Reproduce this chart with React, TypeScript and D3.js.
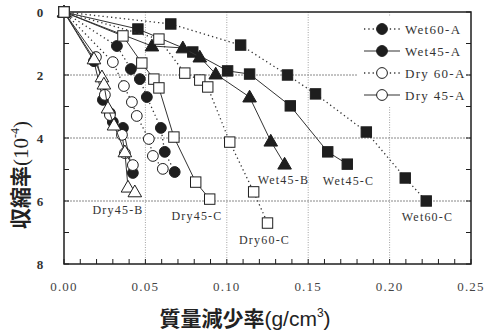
import * as d3 from 'd3';

// 質量減少率 (g/cm3) と 収縮率 (10^-4) のデータ, [x, y]
const wet60C = [[0, 0], [0.0656, 0.38], [0.1085, 1.05], [0.1373, 2.0], [0.1545, 2.6], [0.1857, 3.81], [0.2096, 5.27], [0.2225, 6.0]];
const wet45C = [[0, 0], [0.0454, 0.54], [0.0791, 1.27], [0.1005, 1.87], [0.114, 1.97], [0.139, 2.98], [0.162, 4.44], [0.174, 4.83]];
const wet45B = [[0, 0], [0.054, 1.08], [0.073, 1.14], [0.0834, 1.43], [0.0932, 1.97], [0.114, 2.7], [0.127, 4.1], [0.1355, 4.83]];
const wet60A = [[0, 0], [0.0325, 1.08], [0.0411, 1.81], [0.0466, 2.13], [0.0509, 2.7], [0.0595, 3.68], [0.0619, 4.44], [0.068, 5.08]];
const wet45A = [[0, 0], [0.0184, 1.56], [0.0239, 2.79], [0.0282, 3.21], [0.030, 3.49], [0.0362, 3.68], [0.0423, 5.11]];
const dry60A = [[0, 0], [0.030, 1.59], [0.0368, 2.35], [0.0417, 2.86], [0.0447, 3.3], [0.0521, 4.03], [0.0546, 4.57], [0.0607, 4.98]];
const dry45A = [[0, 0], [0.0196, 1.43], [0.0251, 2.63], [0.0282, 3.27], [0.0356, 3.9], [0.0374, 4.48], [0.0423, 4.86]];
const dry45B = [[0, 0], [0.0184, 1.49], [0.0233, 2.06], [0.0245, 2.29], [0.027, 3.05], [0.0307, 3.59], [0.0374, 4.44], [0.0393, 5.56], [0.0435, 5.71]];
const dry60C = [[0, 0], [0.0583, 0.86], [0.0742, 1.94], [0.0834, 2.16], [0.0883, 2.38], [0.1018, 4.13], [0.1165, 5.71], [0.125, 6.7]];
const dry45C = [[0, 0], [0.0362, 0.76], [0.0478, 1.62], [0.0552, 2.13], [0.0583, 2.41], [0.0675, 3.97], [0.0809, 5.4], [0.0895, 5.94]];

const xTicks = [0, 0.05, 0.1, 0.15, 0.2, 0.25];
const yTicks = [0, 2, 4, 6, 8];

// shape: c=circle, s=square, t=triangle
const series = [
  { data: wet60C, shape: 's', filled: true, dotted: true },
  { data: wet45C, shape: 's', filled: true, dotted: false },
  { data: wet45B, shape: 't', filled: true, dotted: false },
  { data: wet60A, shape: 'c', filled: true, dotted: true },
  { data: dry60A, shape: 'c', filled: false, dotted: true },
  { data: wet45A, shape: 'c', filled: true, dotted: false },
  { data: dry45A, shape: 'c', filled: false, dotted: false },
  { data: dry45B, shape: 't', filled: false, dotted: false },
  { data: dry60C, shape: 's', filled: false, dotted: true },
  { data: dry45C, shape: 's', filled: false, dotted: false },
];

// ラベル (グラフ内の注記)
const notes = [
  { text: 'Wet45-B', x: 0.119, y: 5.45 },
  { text: 'Wet45-C', x: 0.159, y: 5.5 },
  { text: 'Wet60-C', x: 0.2075, y: 6.65 },
  { text: 'Dry60-C', x: 0.1075, y: 7.35 },
  { text: 'Dry45-C', x: 0.066, y: 6.6 },
  { text: 'Dry45-B', x: 0.0175, y: 6.4 },
];

const legendItems = [
  { text: 'Wet60-A', filled: true, dotted: true },
  { text: 'Wet45-A', filled: true, dotted: false },
  { text: 'Dry 60-A', filled: false, dotted: true },
  { text: 'Dry 45-A', filled: false, dotted: false },
];

const INK = '#1e1e1e';
const serif = '"Liberation Serif", "DejaVu Serif", serif';

function Marker({ shape, filled, cx, cy }: { shape: string; filled: boolean; cx: number; cy: number }) {
  const fill = filled ? INK : '#fff';
  if (shape === 'c') return <circle cx={cx} cy={cy} r={5.4} fill={fill} stroke={INK} strokeWidth={1} />;
  if (shape === 's') return <rect x={cx - 5.2} y={cy - 5.2} width={10.4} height={10.4} fill={fill} stroke={INK} strokeWidth={1} />;
  const tri = d3.symbol(d3.symbolTriangle, 80)();
  return <path d={tri || ''} transform={`translate(${cx},${cy + 1})`} fill={fill} stroke={INK} strokeWidth={1} />;
}

export default function App() {
  const W = 488, H = 334;
  const left = 64, right = 471, top = 12, bottom = 264;
  const x = d3.scaleLinear().domain([0, 0.25]).range([left, right]);
  const y = d3.scaleLinear().domain([0, 8]).range([top, bottom]);
  const line = d3.line<number[]>().x(d => x(d[0])).y(d => y(d[1]));

  const minorX = d3.range(0, 0.2501, 0.01);
  const minorY = d3.range(0, 8.01, 1);

  return (
    <svg width={W} height={H} style={{ position: 'absolute', left: 0, top: 0, background: '#fff' }}>
      {/* グリッド */}
      {xTicks.slice(1, -1).map(t => (
        <line key={'gx' + t} x1={x(t)} x2={x(t)} y1={top} y2={bottom} stroke="#8a8a8a" strokeWidth={0.8} strokeDasharray="1 1.5" />
      ))}
      {yTicks.slice(1, -1).map(t => (
        <line key={'gy' + t} x1={left} x2={right} y1={y(t)} y2={y(t)} stroke="#7a7a7a" strokeWidth={0.9} strokeDasharray="2 1" />
      ))}

      {/* 凡例の背景 */}
      <rect x={358} y={16} width={108} height={91} fill="#fff" />

      {/* 目盛り */}
      {minorX.map((t, i) => (
        <line key={'mx' + i} x1={x(t)} x2={x(t)} y1={bottom} y2={bottom - 5} stroke={INK} strokeWidth={1} />
      ))}
      {minorY.map((t, i) => (
        <g key={'my' + i}>
          <line x1={left} x2={left + 5} y1={y(t)} y2={y(t)} stroke={INK} strokeWidth={1} />
          <line x1={right} x2={right - 5} y1={y(t)} y2={y(t)} stroke={INK} strokeWidth={1} />
        </g>
      ))}
      <rect x={left} y={top} width={right - left} height={bottom - top} fill="none" stroke={INK} strokeWidth={1.5} />

      {/* 系列 */}
      {series.map((s, i) => (
        <g key={'s' + i}>
          <path d={line(s.data) || ''} fill="none" stroke="#333" strokeWidth={s.dotted ? 1.3 : 1}
            strokeDasharray={s.dotted ? '1.3 3' : undefined} />
          {s.data.map((d, j) => (
            <Marker key={j} shape={s.shape} filled={s.filled} cx={x(d[0])} cy={y(d[1])} />
          ))}
        </g>
      ))}

      {/* 注記 */}
      {notes.map(n => (
        <text key={n.text} x={x(n.x)} y={y(n.y)} fontFamily={serif} fontSize={12} letterSpacing={1.2} fill="#333">{n.text}</text>
      ))}

      {/* 凡例 */}
      {legendItems.map((l, i) => {
        const ly = 29 + i * 22;
        return (
          <g key={l.text}>
            <line x1={364} x2={400} y1={ly} y2={ly} stroke="#333" strokeWidth={l.dotted ? 1.3 : 1.2}
              strokeDasharray={l.dotted ? '1.3 3' : undefined} />
            <Marker shape="c" filled={l.filled} cx={382} cy={ly} />
            <text x={405} y={ly + 4.5} fontFamily={serif} fontSize={13} letterSpacing={1.3} fill="#333">{l.text}</text>
          </g>
        );
      })}

      {/* 軸ラベル */}
      {xTicks.map(t => (
        <text key={'xl' + t} x={x(t)} y={291} textAnchor="middle" fontFamily={serif} fontSize={13} letterSpacing={1.2} fill="#444">{t.toFixed(2)}</text>
      ))}
      {yTicks.map(t => (
        <text key={'yl' + t} x={40} y={y(t) + 4.5} textAnchor="middle" fontFamily={serif} fontSize={13} fontWeight="bold" fill="#333">{t}</text>
      ))}

      <text x={245} y={326} textAnchor="middle" fontSize={21} fill="#222" fontFamily='"Noto Sans CJK JP", sans-serif'>
        <tspan fontWeight="bold">質量減少率</tspan>
        <tspan fontFamily='"Liberation Sans", Arial, sans-serif'>(g/cm</tspan>
        <tspan fontFamily='"Liberation Sans", Arial, sans-serif' fontSize={12} dy={-9}>3</tspan>
        <tspan fontFamily='"Liberation Sans", Arial, sans-serif' dy={9}>)</tspan>
      </text>
      <text transform="translate(28,175) rotate(-90)" textAnchor="middle" fontSize={21} fill="#222" fontFamily='"Noto Sans CJK JP", sans-serif'>
        <tspan fontWeight="bold">収縮率</tspan>
        <tspan fontFamily={serif}>(10</tspan>
        <tspan fontFamily={serif} fontSize={12} dy={-9}>-4</tspan>
        <tspan fontFamily={serif} dy={9}>)</tspan>
      </text>
    </svg>
  );
}
